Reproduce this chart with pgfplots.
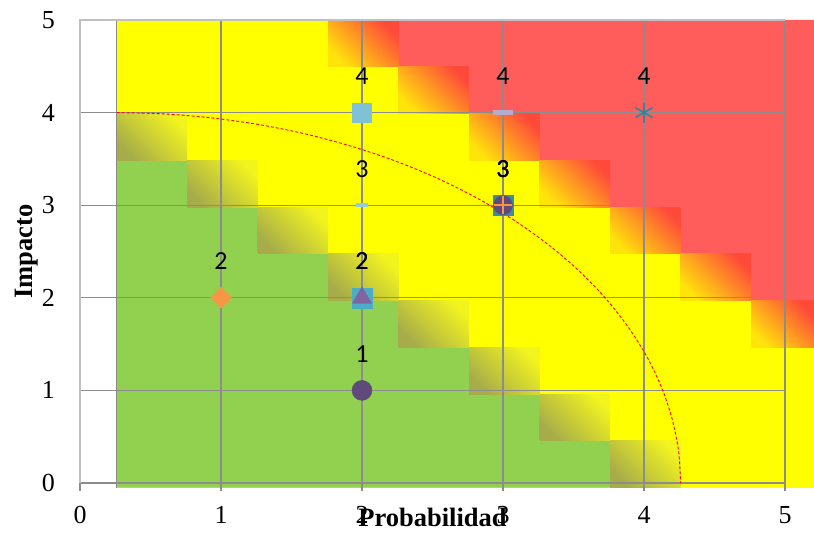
\documentclass[border=0pt]{standalone}
\usepackage{pgfplots}
\pgfplotsset{compat=1.18}
\usepackage{fontspec}
\setmainfont{Liberation Serif}
\newfontfamily\calibri{Carlito}
\definecolor{cgreen}{HTML}{92D050}
\definecolor{cyellow}{HTML}{FFFF00}
\definecolor{cred}{HTML}{FF5C5C}
\definecolor{gyA}{HTML}{A6AC4A}
\definecolor{gyB}{HTML}{F2F41E}
\definecolor{yrA}{HTML}{FFE40A}
\definecolor{yrB}{HTML}{FF4A3A}
\definecolor{gridgray}{HTML}{8C8C8C}
\definecolor{framegray}{HTML}{C0C0C0}
\definecolor{mteal}{HTML}{3A8EA4}
\definecolor{mpurple}{HTML}{604A7B}
\definecolor{morange}{HTML}{F79646}
\definecolor{mblue}{HTML}{4BACC6}
\definecolor{mviolet}{HTML}{8064A2}
\definecolor{mlblue}{HTML}{7FC2D8}
\definecolor{mpale}{HTML}{93CDDD}
\definecolor{mlav}{HTML}{B7AACF}
\definecolor{mast}{HTML}{31859C}
\newcommand\gy[4]{\addplot[on layer=axis background, draw=none, bottom color=gyA, top color=gyB, shading angle=-45] coordinates {(#1,#3) (#2,#3) (#2,#4) (#1,#4)};}
\newcommand\yr[4]{\addplot[on layer=axis background, draw=none, bottom color=yrA, top color=yrB, shading angle=-45] coordinates {(#1,#3) (#2,#3) (#2,#4) (#1,#4)};}
\begin{document}
\begin{tikzpicture}
\begin{axis}[
  scale only axis, width=705pt, height=463pt,
  xmin=0, xmax=5, ymin=0, ymax=5,
  xtick={0,1,2,3,4,5}, ytick={0,1,2,3,4,5},
  grid=major, major grid style={draw=gridgray, line width=1.2pt},
  axis line style={draw=none},
  tick align=outside, tick pos=left,
  ytick style={draw=none}, xtick style={draw=gridgray, line width=1.2pt},
  major tick length=8pt,
  clip=false, set layers=standard,
  /pgf/number format/assume math mode=true,
  tick label style={font=\fontsize{26}{30}\selectfont, inner sep=0pt},
  xticklabel style={anchor=base, yshift=-33pt},
  yticklabel style={anchor=east, xshift=-17pt},
  xlabel={Probabilidad}, ylabel={Impacto},
  every axis x label/.style={at={(axis description cs:0.5,-0.095)}, anchor=base, inner sep=0pt, font=\fontsize{26.5}{30}\selectfont\bfseries},
  every axis y label/.style={at={(axis description cs:-0.068,0.5)}, anchor=base, rotate=90, inner sep=0pt, font=\fontsize{26.5}{30}\selectfont\bfseries},
  every node near coord/.style={font=\calibri\fontsize{26}{30}\selectfont, anchor=base, inner sep=0pt, yshift=28pt, text=black},
  point meta=y,
]
% background tiles
\addplot[on layer=axis background, draw=none, fill=cyellow] coordinates {(0.26,-0.05) (5.21,-0.05) (5.21,5.0) (0.26,5.0)};
\addplot[on layer=axis background, draw=none, fill=cgreen] coordinates {(0.26,-0.05) (3.76,-0.05) (3.76,0.455) (3.26,0.455) (3.26,0.96) (2.76,0.96) (2.76,1.465) (2.26,1.465) (2.26,1.97) (1.76,1.97) (1.76,2.475) (1.26,2.475) (1.26,2.98) (0.76,2.98) (0.76,3.485) (0.26,3.485)};
\addplot[on layer=axis background, draw=none, fill=cred] coordinates {(5.21,1.97) (4.76,1.97) (4.76,2.475) (4.26,2.475) (4.26,2.98) (3.76,2.98) (3.76,3.485) (3.26,3.485) (3.26,3.99) (2.76,3.99) (2.76,4.495) (2.26,4.495) (2.26,5.0) (5.21,5.0)};
\gy{3.76}{4.26}{-0.05}{0.455}
\gy{3.26}{3.76}{0.455}{0.96}
\gy{2.76}{3.26}{0.96}{1.465}
\gy{2.26}{2.76}{1.465}{1.97}
\gy{1.76}{2.26}{1.97}{2.475}
\gy{1.26}{1.76}{2.475}{2.98}
\gy{0.76}{1.26}{2.98}{3.485}
\gy{0.26}{0.76}{3.485}{3.99}
\yr{4.76}{5.21}{1.465}{1.97}
\yr{4.26}{4.76}{1.97}{2.475}
\yr{3.76}{4.26}{2.475}{2.98}
\yr{3.26}{3.76}{2.98}{3.485}
\yr{2.76}{3.26}{3.485}{3.99}
\yr{2.26}{2.76}{3.99}{4.495}
\yr{1.76}{2.26}{4.495}{5.0}
\addplot[gridgray, line width=1pt] coordinates {(0.26,-0.05) (0.26,5.0)};
\addplot[framegray, line width=1.6pt] coordinates {(0,0) (0,5) (5,5)};
% dashed limit curve
\addplot[red, line width=0.9pt, dash pattern=on 3pt off 2pt, smooth] coordinates {
(0.26,4.0) (0.609,3.985) (0.955,3.939) (1.295,3.864) (1.628,3.759) (1.950,3.625)
(2.26,3.464) (2.554,3.277) (2.831,3.064) (3.088,2.828) (3.324,2.571) (3.537,2.294)
(3.724,2.0) (3.885,1.690) (4.019,1.368) (4.124,1.035) (4.199,0.695) (4.245,0.349) (4.26,0.0)};
% risks
\addplot[only marks, mark=square*, mark size=10pt, mark options={fill=mteal, draw=mteal}, nodes near coords] coordinates {(3,3)};
\addplot[only marks, mark=*, mark size=9.5pt, mark options={fill=mpurple, draw=mpurple}, nodes near coords] coordinates {(3,3)};
\addplot[only marks, mark=+, mark size=9pt, mark options={draw=morange, line width=2pt}, nodes near coords] coordinates {(3,3)};
\addplot[only marks, mark=square*, mark size=10pt, mark options={fill=mblue, draw=mblue}, nodes near coords] coordinates {(2,2)};
\addplot[only marks, mark=triangle*, mark size=11pt, mark options={fill=mviolet, draw=mviolet}, nodes near coords] coordinates {(2,2)};
\addplot[only marks, mark=square*, mark size=9.5pt, mark options={fill=mlblue, draw=mlblue}, nodes near coords] coordinates {(2,4)};
\addplot[only marks, mark=-, mark size=6pt, mark options={draw=mpale, line width=4.5pt}, nodes near coords] coordinates {(2,3)};
\addplot[only marks, mark=-, mark size=10pt, mark options={draw=mlav, line width=5pt}, nodes near coords] coordinates {(3,4)};
\addplot[only marks, mark=asterisk, mark size=10pt, mark options={draw=mast, line width=1.6pt}, nodes near coords] coordinates {(4,4)};
\addplot[only marks, mark=*, mark size=10pt, mark options={fill=mpurple, draw=mpurple}, nodes near coords] coordinates {(2,1)};
\addplot[only marks, mark=square*, mark size=7.3pt, mark options={fill=morange, draw=morange, rotate=45}, nodes near coords] coordinates {(1,2)};
\coordinate (bbl) at (axis cs:-0.5674,-0.540);
\coordinate (btr) at (axis cs:5.2057,5.216);
\end{axis}
\pgfresetboundingbox
\path (bbl) rectangle (btr);
\end{tikzpicture}
\end{document}
